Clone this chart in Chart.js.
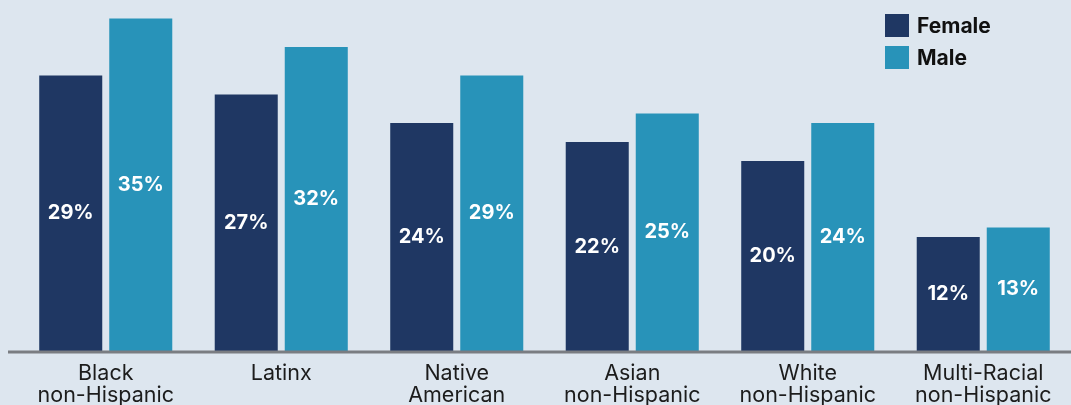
<!DOCTYPE html>
<html>
<head>
<meta charset="utf-8">
<script src="https://cdn.jsdelivr.net/npm/chart.js@4/dist/chart.umd.min.js"></script>
<style>
html,body{margin:0;padding:0;background:#dde6ef;overflow:hidden;}
#wrap{width:1071px;height:405px;}
</style>
</head>
<body>
<div id="wrap"><canvas id="c" width="1071" height="405"></canvas></div>
<script>
const categories = [["Black","non-Hispanic"],"Latinx",["Native","American"],["Asian","non-Hispanic"],["White","non-Hispanic"],["Multi-Racial","non-Hispanic"]];
const femaleValues = [29,27,24,22,20,12];
const maleValues = [35,32,29,25,24,13];
const seriesNames = ["Female","Male"];
const seriesColors = ["#1f3763","#2893b9"];

const FONT = 'Inter, Lato, "Open Sans", sans-serif';

const barLabels = {
  id:'barLabels',
  afterDatasetsDraw(chart){
    const ctx = chart.ctx;
    ctx.save();
    ctx.fillStyle = '#ffffff';
    ctx.font = 'bold 20px ' + FONT;
    ctx.textAlign = 'center';
    ctx.textBaseline = 'middle';
    chart.data.datasets.forEach((ds,i)=>{
      chart.getDatasetMeta(i).data.forEach((bar,j)=>{
        const y = (bar.y + bar.base)/2;
        ctx.fillText(ds.data[j]+'%', bar.x, y);
      });
    });
    ctx.restore();
  }
};
const axisLine = {
  id:'axisLine',
  afterDatasetsDraw(chart){
    const ctx = chart.ctx;
    const y = chart.scales.y.getPixelForValue(0);
    ctx.save();
    ctx.strokeStyle = '#7a7d82';
    ctx.lineWidth = 3;
    ctx.beginPath();
    ctx.moveTo(8, y+1);
    ctx.lineTo(chart.width, y+1);
    ctx.stroke();
    ctx.restore();
  }
};
const sideLegend = {
  id:'sideLegend',
  afterDraw(chart){
    const ctx = chart.ctx;
    ctx.save();
    ctx.font = 'bold 21px ' + FONT;
    ctx.textBaseline = 'middle';
    ctx.textAlign = 'left';
    chart.data.datasets.forEach((ds,i)=>{
      const top = 14 + i*32;
      ctx.fillStyle = ds.backgroundColor;
      ctx.fillRect(885, top, 24, 23);
      ctx.fillStyle = '#111111';
      ctx.fillText(ds.label, 917, top + 13);
    });
    ctx.restore();
  }
};

new Chart(document.getElementById('c'), {
  type:'bar',
  data:{
    labels: categories,
    datasets:[
      {label:seriesNames[0], data:femaleValues, backgroundColor:seriesColors[0], barPercentage:0.9, categoryPercentage:0.798},
      {label:seriesNames[1], data:maleValues, backgroundColor:seriesColors[1], barPercentage:0.9, categoryPercentage:0.798}
    ]
  },
  options:{
    responsive:false,
    animation:false,
    layout:{padding:{left:18,right:0,top:9,bottom:0}},
    plugins:{legend:{display:false},tooltip:{enabled:false}},
    scales:{
      x:{
        grid:{display:false,drawTicks:false},
        border:{display:false},
        afterFit(scale){ scale.height = 54; },
        ticks:{color:'#1c1c1c',font:{family:FONT,size:21.5,lineHeight:1.0},padding:12,maxRotation:0,autoSkip:false}
      },
      y:{display:false,min:0,max:36}
    }
  },
  plugins:[barLabels,axisLine,sideLegend]
});
</script>
</body>
</html>
